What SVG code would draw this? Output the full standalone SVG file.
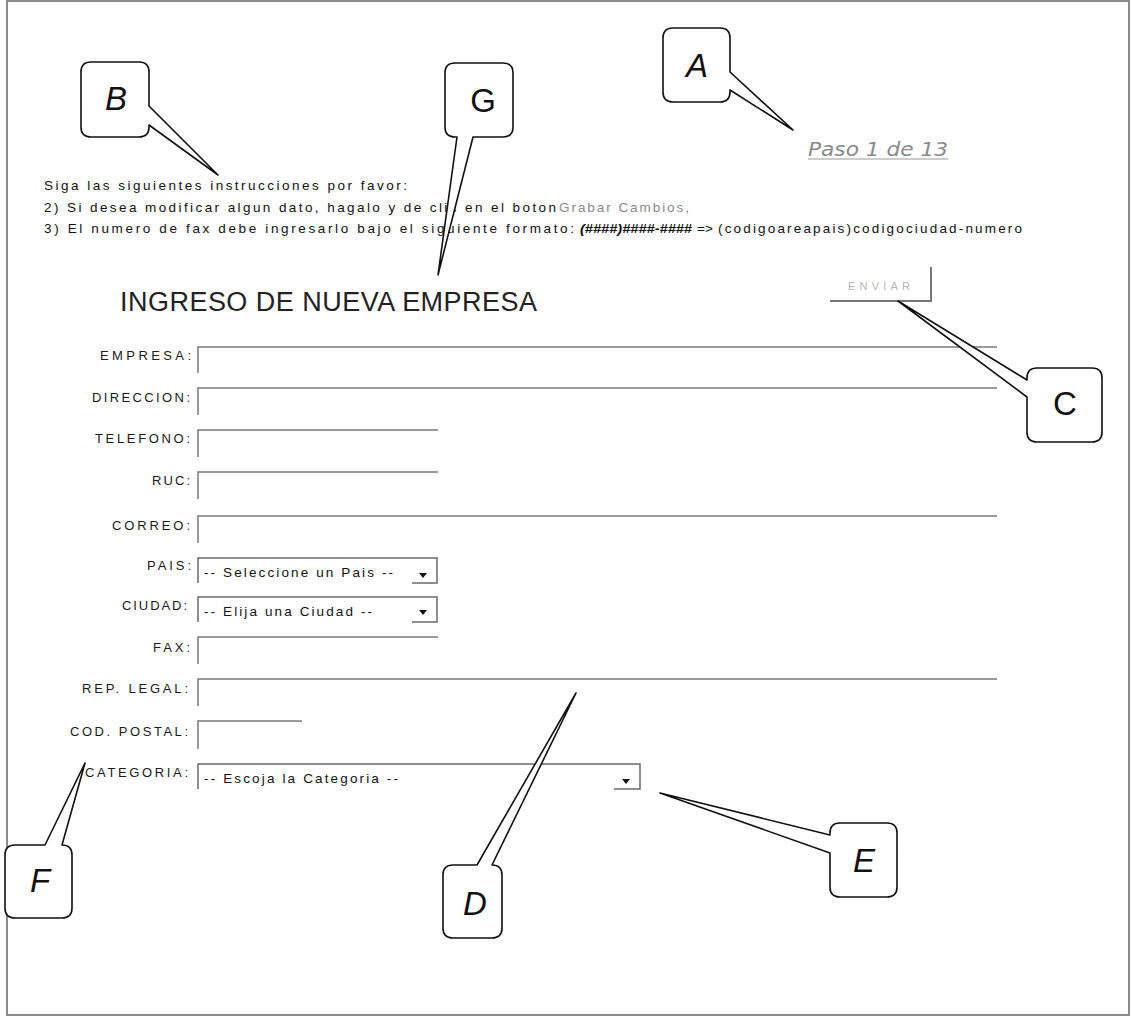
<svg xmlns="http://www.w3.org/2000/svg" width="1132" height="1017" viewBox="0 0 1132 1017">
<style>
.t{font-family:"Liberation Sans",Arial,sans-serif;font-size:13.5px;fill:#111}
.lbl{font-family:"Liberation Sans",Arial,sans-serif;font-size:13px;fill:#1a1a1a}
.opt{font-family:"Liberation Sans",Arial,sans-serif;font-size:13.5px;fill:#111}
.fld{fill:none;stroke:#7a7a7a;stroke-width:1.5}
.sel{fill:none;stroke:#6a6a6a;stroke-width:1.5}
.arr{fill:#111}
.co{fill:#fff;stroke:#111;stroke-width:1.6;stroke-linejoin:round}
.cl{font-family:"Liberation Sans",Arial,sans-serif;font-size:33px;fill:#111;text-anchor:middle}
.it{font-style:italic}
</style>
<rect width="1132" height="1017" fill="#fff"/>
<g id="frame">
<rect x="7" y="1" width="1122" height="1014" fill="none" stroke="#666" stroke-width="1.5"/>
</g>
<g id="header">
<text class="t" x="44" y="190" textLength="363" lengthAdjust="spacing">Siga las siguientes instrucciones por favor:</text>
<text class="t" x="44" y="212" textLength="512" lengthAdjust="spacing">2) Si desea modificar algun dato, hagalo y de clic en el boton</text>
<text class="t" x="559" y="212" textLength="130" lengthAdjust="spacing" style="fill:#8a8a8a">Grabar Cambios,</text>
<text class="t" x="44" y="233" textLength="530" lengthAdjust="spacing">3) El numero de fax debe ingresarlo bajo el siguiente formato:</text>
<text class="t" x="580" y="233" textLength="112" lengthAdjust="spacingAndGlyphs" font-weight="bold" font-style="italic">(####)####-####</text>
<text class="t" x="697" y="233" textLength="16" lengthAdjust="spacing">=&gt;</text>
<text class="t" x="718" y="233" textLength="304" lengthAdjust="spacing">(codigoareapais)codigociudad-numero</text>
</g>
<g id="paso">
<text x="808" y="156" font-family="DejaVu Sans, sans-serif" font-style="italic" font-size="19" fill="#8a8a8a" textLength="140" lengthAdjust="spacingAndGlyphs">Paso 1 de 13</text>
<line x1="808" y1="159" x2="948" y2="159" stroke="#9a9a9a" stroke-width="1.2"/>
</g>
<g id="title">
<text x="120" y="311" font-family="Liberation Sans, Arial, sans-serif" font-size="27" fill="#222" textLength="417" lengthAdjust="spacing">INGRESO DE NUEVA EMPRESA</text>
</g>
<g id="enviar">
<line x1="830" y1="301" x2="932" y2="301" stroke="#777" stroke-width="2"/>
<line x1="931" y1="267" x2="931" y2="302" stroke="#777" stroke-width="2"/>
<text x="848" y="290" font-family="Liberation Sans, Arial, sans-serif" font-size="11" fill="#b5b5b5" textLength="62" lengthAdjust="spacing">ENVIAR</text>
</g>
<g id="f-empresa">
<text class="lbl" x="100" y="360" textLength="91" lengthAdjust="spacing">EMPRESA:</text>
<path class="fld" d="M198,373 V347 H997"/>
</g>
<g id="f-direccion">
<text class="lbl" x="92" y="402" textLength="98" lengthAdjust="spacing">DIRECCION:</text>
<path class="fld" d="M198,415 V388 H997"/>
</g>
<g id="f-telefono">
<text class="lbl" x="95" y="443" textLength="95" lengthAdjust="spacing">TELEFONO:</text>
<path class="fld" d="M198,457 V430 H438"/>
</g>
<g id="f-ruc">
<text class="lbl" x="152" y="485" textLength="38" lengthAdjust="spacing">RUC:</text>
<path class="fld" d="M198,499 V472 H438"/>
</g>
<g id="f-correo">
<text class="lbl" x="112" y="530" textLength="78" lengthAdjust="spacing">CORREO:</text>
<path class="fld" d="M198,543 V516 H997"/>
</g>
<g id="f-pais">
<text class="lbl" x="147" y="570" textLength="44" lengthAdjust="spacing">PAIS:</text>
<path class="sel" d="M198,583 V558 H437 V583 H412"/>
<text class="opt" x="204" y="577" textLength="189" lengthAdjust="spacing">-- Seleccione un Pais --</text>
<polygon class="arr" points="419,573 427,573 423,578"/>
</g>
<g id="f-ciudad">
<text class="lbl" x="122" y="610" textLength="65" lengthAdjust="spacing">CIUDAD:</text>
<path class="sel" d="M198,622 V597 H437 V622 H412"/>
<text class="opt" x="204" y="616" textLength="168" lengthAdjust="spacing">-- Elija una Ciudad --</text>
<polygon class="arr" points="419,610 427,610 423,615"/>
</g>
<g id="f-fax">
<text class="lbl" x="153" y="652" textLength="37" lengthAdjust="spacing">FAX:</text>
<path class="fld" d="M198,664 V637 H438"/>
</g>
<g id="f-replegal">
<text class="lbl" x="82" y="693" textLength="106" lengthAdjust="spacing">REP. LEGAL:</text>
<path class="fld" d="M198,706 V679 H997"/>
</g>
<g id="f-codpostal">
<text class="lbl" x="70" y="736" textLength="118" lengthAdjust="spacing">COD. POSTAL:</text>
<path class="fld" d="M198,749 V721 H302"/>
</g>
<g id="f-categoria">
<text class="lbl" x="85" y="777" textLength="103" lengthAdjust="spacing">CATEGORIA:</text>
<path class="sel" d="M198,789 V764 H640 V789 H614"/>
<text class="opt" x="204" y="783" textLength="194" lengthAdjust="spacing">-- Escoja la Categoria --</text>
<polygon class="arr" points="622,779 630,779 626,784"/>
</g>
<g id="callout-A">
<path class="co" d="M673,28 H720 Q730,28 730,38 V72 L793,130 L730,90 V92 Q730,102 720,102 H673 Q663,102 663,92 V38 Q663,28 673,28 Z"/>
<text class="cl it" x="697" y="77">A</text>
</g>
<g id="callout-B">
<path class="co" d="M91,62 H139 Q149,62 149,72 V106 L218,175 L149,125 V127 Q149,137 139,137 H91 Q81,137 81,127 V72 Q81,62 91,62 Z"/>
<text class="cl it" x="116" y="110">B</text>
</g>
<g id="callout-G">
<path class="co" d="M455,63 H503 Q513,63 513,73 V127 Q513,137 503,137 H473 L438,275 L457,137 H455 Q445,137 445,127 V73 Q445,63 455,63 Z"/>
<text class="cl" x="483" y="112">G</text>
</g>
<g id="callout-C">
<path class="co" d="M1037,368 H1092 Q1102,368 1102,378 V432 Q1102,442 1092,442 H1037 Q1027,442 1027,432 V397 L898,301 L1027,380 V378 Q1027,368 1037,368 Z"/>
<text class="cl" x="1065" y="415">C</text>
</g>
<g id="callout-F">
<path class="co" d="M15,845 H45 L85,763 L62,845 Q72,845 72,855 V908 Q72,918 62,918 H15 Q5,918 5,908 V855 Q5,845 15,845 Z"/>
<text class="cl it" x="40" y="892">F</text>
</g>
<g id="callout-D">
<path class="co" d="M453,865 H477 L576,693 L492,865 Q502,865 502,875 V928 Q502,938 492,938 H453 Q443,938 443,928 V875 Q443,865 453,865 Z"/>
<text class="cl it" x="475" y="915">D</text>
</g>
<g id="callout-E">
<path class="co" d="M840,823 H887 Q897,823 897,833 V887 Q897,897 887,897 H840 Q830,897 830,887 V853 L660,793 L830,835 V833 Q830,823 840,823 Z"/>
<text class="cl it" x="864" y="872">E</text>
</g>
</svg>
